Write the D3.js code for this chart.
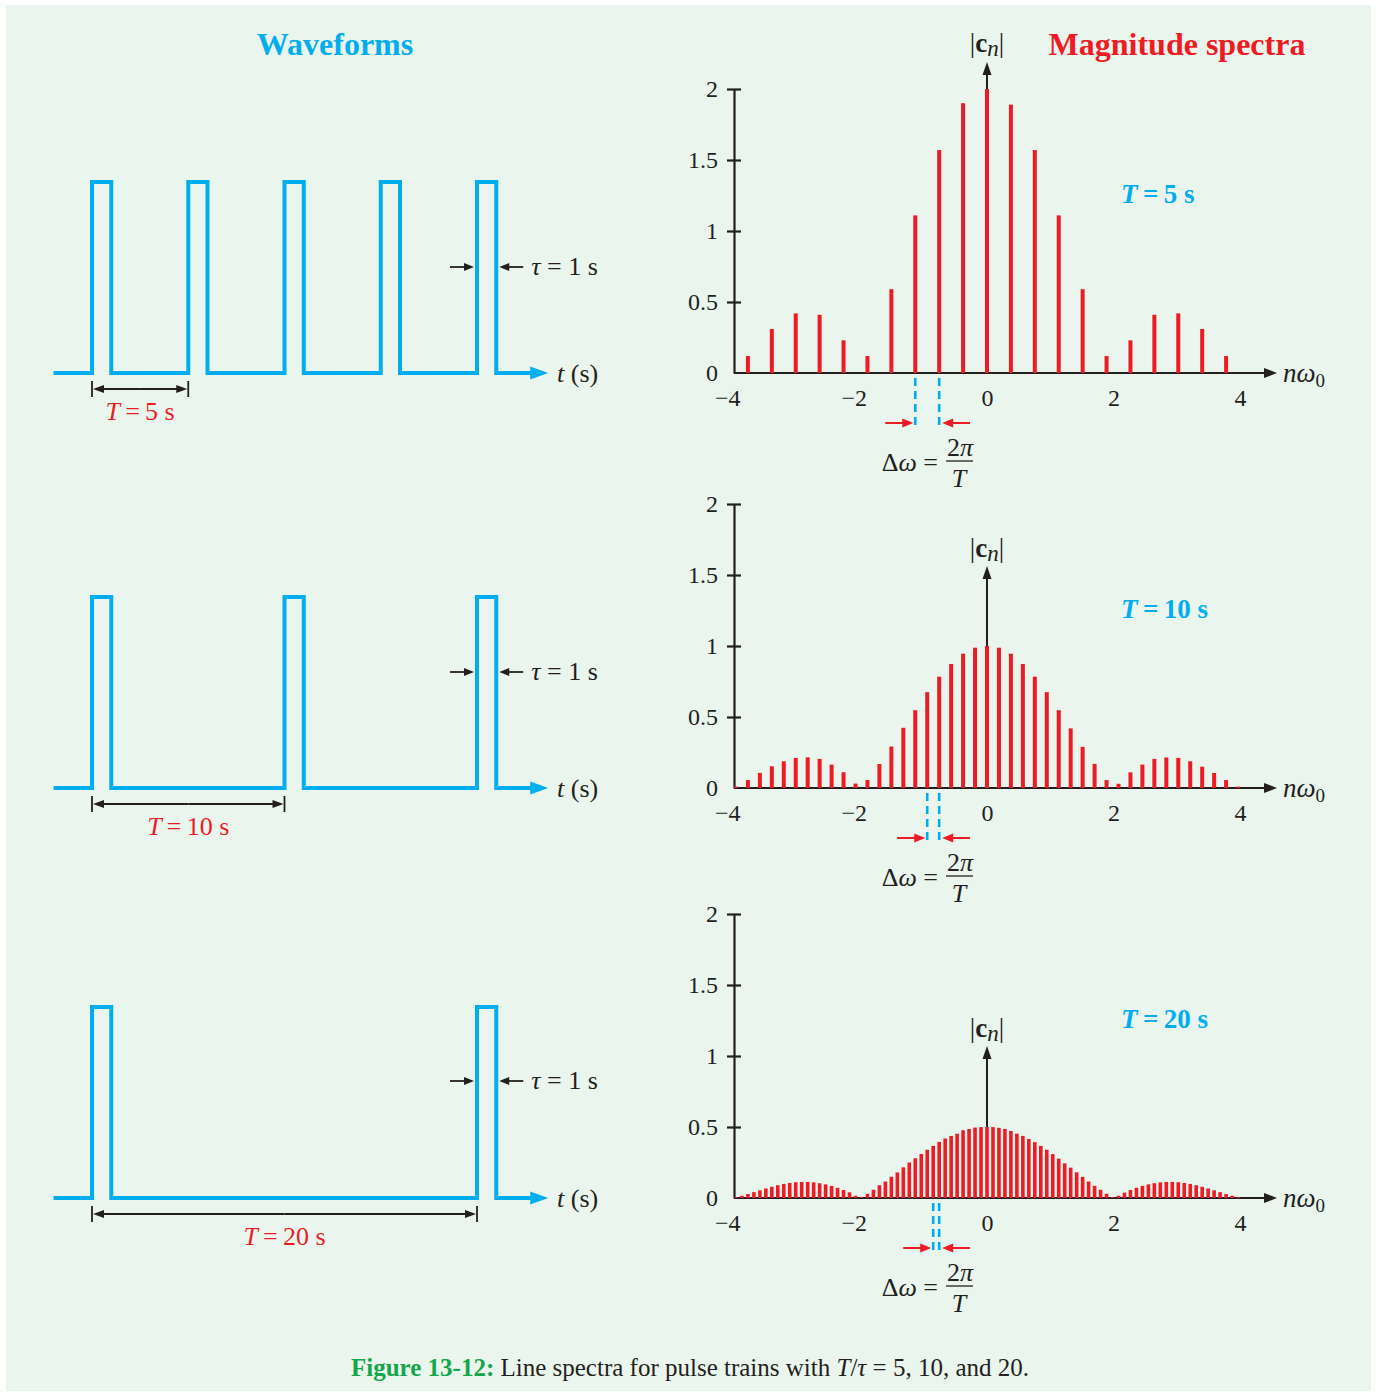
<!DOCTYPE html>
<html>
<head>
<meta charset="utf-8">
<script src="https://cdn.jsdelivr.net/npm/d3@7"></script>
<style>
  body { margin: 0; background: #fff; }
  svg { display: block; }
  text { font-family: "Liberation Serif", "Times New Roman", serif; }
</style>
</head>
<body>
<svg id="chart"></svg>
<script>
// ---- data ----
const periods = [5, 10, 20];
const pulseStartsT5 = [0, 5, 10, 15, 20];
const pulseStartsT10 = [0, 10, 20];
const pulseStartsT20 = [0, 20];
const pulseWidth = 1;        // tau = 1 s
const pulseHeight = 10;
const timeRange = [-2, 23.7];

// spacing between neighbouring spectral lines on the n*w0 axis
const lineStep = [0.378, 0.189, 0.0945];

// |c_n| for n = -10 .. 10
const magT5 = [0.12, 0.31, 0.42, 0.41, 0.23, 0.12, 0.59, 1.11, 1.57, 1.90, 2.00,
               1.89, 1.57, 1.11, 0.59, 0.12, 0.23, 0.41, 0.42, 0.31, 0.12];
// |c_n| for n = -21 .. 21
const magT10 = [0.01, 0.056, 0.106, 0.153, 0.188, 0.212, 0.216, 0.205, 0.165, 0.111,
                0.031, 0.056, 0.169, 0.292, 0.424, 0.548, 0.675, 0.784, 0.873, 0.946, 0.988,
                1.0,
                0.988, 0.946, 0.873, 0.784, 0.675, 0.548, 0.42, 0.29, 0.17, 0.056,
                0.03, 0.11, 0.165, 0.205, 0.215, 0.212, 0.188, 0.15, 0.106, 0.056, 0.01];
// |c_n| for n = -42 .. 42
const magT20 = [0.006, 0.016, 0.028, 0.041, 0.054, 0.067, 0.079, 0.09, 0.099, 0.106,
                0.111, 0.113, 0.113, 0.11, 0.104, 0.096, 0.085, 0.072, 0.056, 0.04,
                0.016, 0.005, 0.03, 0.058, 0.09, 0.116, 0.15, 0.18, 0.216, 0.25,
                0.28, 0.31, 0.34, 0.367, 0.395, 0.419, 0.437, 0.453, 0.477, 0.486,
                0.496, 0.499,
                0.5,
                0.499, 0.494, 0.486, 0.472, 0.453, 0.437, 0.416, 0.393, 0.367, 0.34,
                0.309, 0.277, 0.244, 0.214, 0.181, 0.149, 0.116, 0.086, 0.058, 0.03,
                0.007, 0.016, 0.038, 0.056, 0.072, 0.085, 0.096, 0.104, 0.11, 0.113,
                0.113, 0.111, 0.106, 0.099, 0.09, 0.079, 0.067, 0.054, 0.041, 0.028,
                0.016, 0.006];
// the two neighbouring lines marked with the dashed delta-omega guides
const dashedLines = [[-3, -2], [-5, -4], [-9, -8]];

const yTicks = [0, 0.5, 1, 1.5, 2];
const xTicks = [-4, -2, 0, 2, 4];

const pulseStarts = [pulseStartsT5, pulseStartsT10, pulseStartsT20];
const magnitudes = [magT5, magT10, magT20];

// ---- layout ----
const W = 1377, H = 1397;
const rowBase = [373, 788, 1198];
const tauY = [267, 672, 1081];
const cnTip = [62, 566, 1046];
const cnLabel = [52, 557, 1037];
const blue = "#00aeef", red = "#ed1c24", ink = "#231f20", green = "#14a64a";

const svg = d3.select("#chart").attr("width", W).attr("height", H);
svg.append("rect").attr("width", W).attr("height", H).attr("fill", "#fff");
svg.append("rect").attr("x", 6).attr("y", 5).attr("width", W - 12).attr("height", H - 11)
    .attr("fill", "#eaf5ed");

function arrow(g, x1, y1, x2, y2, color, len, half, sw) {
    const a = Math.atan2(y2 - y1, x2 - x1), c = Math.cos(a), s = Math.sin(a);
    const bx = x2 - len * c, by = y2 - len * s;
    g.append("line")
        .attr("x1", x1).attr("y1", y1)
        .attr("x2", x2 - len * 0.6 * c).attr("y2", y2 - len * 0.6 * s)
        .attr("stroke", color).attr("stroke-width", sw);
    g.append("path")
        .attr("d", `M${x2},${y2}L${bx - half * s},${by + half * c}L${bx + half * s},${by - half * c}Z`)
        .attr("fill", color);
}

//titles
svg.append("text")
    .attr("x", 335).attr("y", 55)
    .attr("text-anchor", "middle")
    .attr("font-size", 32).attr("font-weight", "bold")
    .attr("fill", blue)
    .text("Waveforms");

svg.append("text")
    .attr("x", 1177).attr("y", 55)
    .attr("text-anchor", "middle")
    .attr("font-size", 32).attr("font-weight", "bold")
    .attr("fill", red)
    .text("Magnitude spectra");

// ---- waveforms ----
const tScale = d3.scaleLinear().domain([0, 20]).range([92, 477]);

periods.forEach((T, r) => {
    const base = rowBase[r];
    const aScale = d3.scaleLinear().domain([0, pulseHeight]).range([base, base - 191]);
    const g = svg.append("g");

    const pts = [[timeRange[0], 0]];
    pulseStarts[r].forEach(s => {
        pts.push([s, 0], [s, pulseHeight], [s + pulseWidth, pulseHeight], [s + pulseWidth, 0]);
    });
    pts.push([22.9, 0]);

    const line = d3.line().x(d => tScale(d[0])).y(d => aScale(d[1]));
    g.append("path")
        .attr("d", line(pts))
        .attr("fill", "none")
        .attr("stroke", blue)
        .attr("stroke-width", 4)
        .attr("stroke-linejoin", "miter");
    arrow(g, tScale(22.5), base, tScale(timeRange[1]), base, blue, 18, 6.5, 4);

    g.append("text")
        .attr("x", 557).attr("y", base + 9)
        .attr("font-size", 26).attr("fill", ink)
        .call(t => {
            t.append("tspan").attr("font-style", "italic").text("t");
            t.append("tspan").text(" (s)");
        });

    // tau marker on the last pulse
    const last = pulseStarts[r][pulseStarts[r].length - 1];
    const xl = tScale(last), xr = tScale(last + pulseWidth);
    arrow(g, xl - 27, tauY[r], xl - 3, tauY[r], ink, 10, 4, 1.8);
    arrow(g, xr + 27, tauY[r], xr + 3, tauY[r], ink, 10, 4, 1.8);
    g.append("text")
        .attr("x", xr + 35).attr("y", tauY[r] + 8)
        .attr("font-size", 26).attr("fill", ink)
        .call(t => {
            t.append("tspan").attr("font-style", "italic").text("τ");
            t.append("tspan").text(" = 1 s");
        });

    // period dimension
    const x0 = tScale(0), x1 = tScale(T), yd = base + 16;
    [x0, x1].forEach(x => {
        g.append("line").attr("x1", x).attr("x2", x)
            .attr("y1", yd - 8).attr("y2", yd + 8)
            .attr("stroke", ink).attr("stroke-width", 1.8);
    });
    const mid = (x0 + x1) / 2;
    arrow(g, mid, yd, x0 + 1, yd, ink, 11, 4, 1.8);
    arrow(g, mid, yd, x1 - 1, yd, ink, 11, 4, 1.8);
    g.append("text")
        .attr("x", mid).attr("y", base + 47)
        .attr("text-anchor", "middle")
        .attr("font-size", 26).attr("fill", red)
        .call(t => {
            t.append("tspan").attr("font-style", "italic").text("T");
            t.append("tspan").text(`\u2009=\u2009${T} s`);
        });
});

// ---- spectra ----
const xSpec = d3.scaleLinear().domain([-4, 4]).range([734, 1240]);

periods.forEach((T, r) => {
    const base = rowBase[r];
    const ySpec = d3.scaleLinear().domain([0, 2]).range([base, base - 284]);
    const vals = magnitudes[r];
    const half = (vals.length - 1) / 2;
    const step = lineStep[r];
    const g = svg.append("g");

    // y axis
    g.append("g")
        .attr("transform", `translate(${xSpec(-4)},0)`)
        .call(d3.axisLeft(ySpec).tickValues(yTicks).tickSize(7).tickSizeOuter(0)
            .tickPadding(9).tickFormat(d3.format("")))
        .call(a => a.select(".domain").attr("stroke", ink).attr("stroke-width", 2.2))
        .call(a => a.selectAll(".tick line").attr("x1", 7).attr("stroke", ink).attr("stroke-width", 2.2))
        .call(a => a.selectAll(".tick").filter(d => d === 0).select("line").remove())
        .call(a => a.selectAll(".tick text")
            .attr("font-family", "Liberation Serif, serif")
            .attr("font-size", 24).attr("fill", ink));

    // x axis labels
    g.append("g")
        .attr("transform", `translate(0,${base})`)
        .call(d3.axisBottom(xSpec).tickValues(xTicks).tickSize(0).tickPadding(16))
        .call(a => a.select(".domain").remove())
        .call(a => a.selectAll(".tick text")
            .attr("text-anchor", "end").attr("dx", 6)
            .attr("font-family", "Liberation Serif, serif")
            .attr("font-size", 24).attr("fill", ink));

    // x axis line with arrow
    arrow(g, xSpec(-4), base, 1277, base, ink, 13, 5, 2.2);
    g.append("text")
        .attr("x", 1283).attr("y", base + 9)
        .attr("font-size", 27).attr("fill", ink)
        .call(t => {
            t.append("tspan").attr("font-style", "italic").text("nω");
            t.append("tspan").attr("font-size", 19).attr("dy", 5).text("0");
        });

    // |c_n| arrow
    arrow(g, xSpec(0), base, xSpec(0), cnTip[r], ink, 13, 4.5, 2);
    g.append("text")
        .attr("x", xSpec(0)).attr("y", cnLabel[r])
        .attr("text-anchor", "middle")
        .attr("font-size", 27).attr("fill", ink)
        .call(t => {
            t.append("tspan").text("|");
            t.append("tspan").attr("font-weight", "bold").text("c");
            t.append("tspan").attr("font-style", "italic").attr("font-size", 23).attr("dy", 4).text("n");
            t.append("tspan").attr("dy", -4).text("|");
        });

    // spectral lines
    g.append("g").selectAll("rect")
        .data(vals)
        .join("rect")
        .attr("x", (d, i) => xSpec((i - half) * step) - (r === 2 ? 1.8 : 2))
        .attr("width", r === 2 ? 3.6 : 4)
        .attr("y", d => ySpec(d))
        .attr("height", d => base - ySpec(d))
        .attr("fill", red);

    // label
    g.append("text")
        .attr("x", 1121).attr("y", base - 170)
        .attr("font-size", 27).attr("font-weight", "bold").attr("fill", blue)
        .call(t => {
            t.append("tspan").attr("font-style", "italic").text("T");
            t.append("tspan").text(`\u2009=\u2009${T} s`);
        });

    // delta omega guides
    const [na, nb] = dashedLines[r];
    const xa = xSpec(na * step), xb = xSpec(nb * step);
    [xa, xb].forEach(x => {
        g.append("line")
            .attr("x1", x).attr("x2", x)
            .attr("y1", base + 5).attr("y2", base + 55)
            .attr("stroke", blue).attr("stroke-width", 2.6)
            .attr("stroke-dasharray", "8,5");
    });
    const ya = base + 50;
    arrow(g, xa - 30, ya, xa - 2, ya, red, 11, 4.5, 2);
    arrow(g, 970, ya, xb + 3, ya, red, 11, 4.5, 2);

    g.append("text")
        .attr("x", 938).attr("y", base + 98)
        .attr("text-anchor", "end")
        .attr("font-size", 26).attr("fill", ink)
        .call(t => {
            t.append("tspan").text("Δ");
            t.append("tspan").attr("font-style", "italic").text("ω");
            t.append("tspan").text(" =");
        });
    g.append("line")
        .attr("x1", 946).attr("x2", 973)
        .attr("y1", base + 88).attr("y2", base + 88)
        .attr("stroke", ink).attr("stroke-width", 1.3);
    g.append("text")
        .attr("x", 960).attr("y", base + 83)
        .attr("text-anchor", "middle")
        .attr("font-size", 26).attr("fill", ink)
        .call(t => {
            t.append("tspan").text("2");
            t.append("tspan").attr("font-style", "italic").text("π");
        });
    g.append("text")
        .attr("x", 959).attr("y", base + 114)
        .attr("text-anchor", "middle")
        .attr("font-size", 26).attr("font-style", "italic").attr("fill", ink)
        .text("T");
});

//caption
svg.append("text")
    .attr("x", 690).attr("y", 1376)
    .attr("text-anchor", "middle")
    .attr("font-size", 25).attr("fill", ink)
    .call(t => {
        t.append("tspan").attr("font-weight", "bold").attr("fill", green).text("Figure 13-12:");
        t.append("tspan").text(" Line spectra for pulse trains with ");
        t.append("tspan").attr("font-style", "italic").text("T");
        t.append("tspan").text("/");
        t.append("tspan").attr("font-style", "italic").text("τ");
        t.append("tspan").text(" = 5, 10, and 20.");
    });
</script>
</body>
</html>
